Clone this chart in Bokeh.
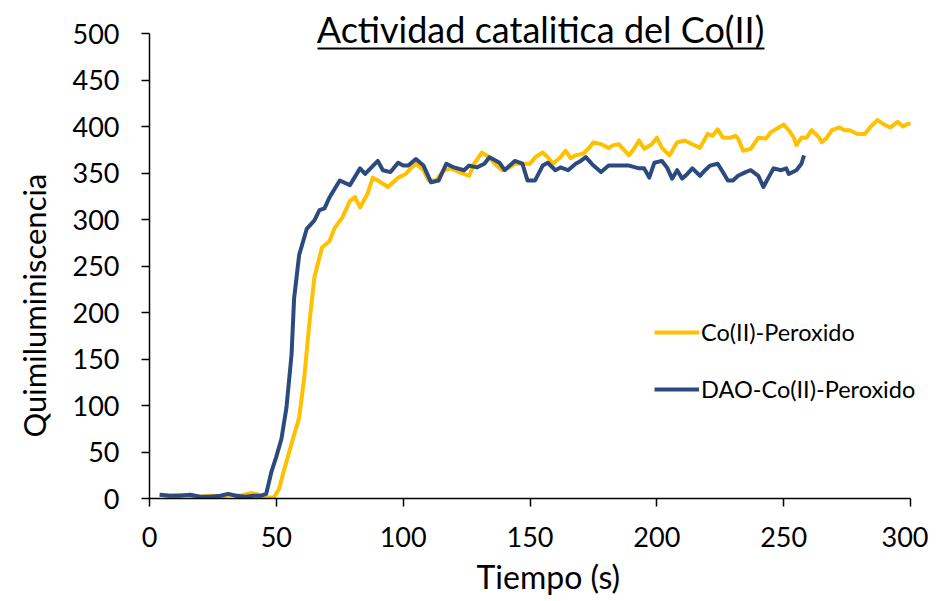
from bokeh.plotting import figure
from bokeh.models import Range1d, FixedTicker, Label, BoxAnnotation, Legend, LegendItem, Title
from bokeh.embed import file_html
from bokeh.resources import INLINE

# ---- data ----
t_co = [4, 8, 12, 16, 20, 24, 28, 32, 36, 40, 43, 46, 49, 51, 53, 56, 59, 61, 63, 65,
        68, 71, 73, 76, 79, 81, 83, 86, 88, 90, 94, 98, 101, 103, 105, 108, 110, 113,
        116, 119, 122, 126, 128, 131, 134, 136, 139, 142, 144, 148, 150, 152, 155, 157,
        159, 162, 164, 166, 168, 171, 173, 175, 178, 181, 183, 185, 189, 191, 193, 195,
        198, 200, 202, 205, 208, 211, 214, 217, 220, 222, 224, 226, 229, 231, 232, 234,
        237, 240, 243, 245, 248, 250, 252, 254, 255, 257, 259, 261, 264, 265, 267, 269,
        272, 274, 276, 279, 282, 284, 287, 289, 292, 295, 297, 299, 300]
v_co = [4, 3, 4, 3, 2, 3, 2, 4, 3, 6, 4, 1, 1, 10, 30, 59, 87, 130, 188, 238,
        270, 277, 291, 302, 320, 324, 313, 328, 345, 342, 335, 345, 349, 355, 360, 353, 342, 342,
        353, 355, 351, 347, 360, 372, 367, 360, 353, 356, 360, 360, 360, 367, 372, 367,
        360, 367, 374, 366, 369, 371, 376, 383, 381, 377, 380, 381, 369, 376, 385, 376,
        381, 388, 377, 369, 383, 385, 381, 377, 392, 390, 397, 388, 388, 390, 387, 374,
        376, 388, 387, 394, 399, 402, 396, 388, 380, 388, 388, 396, 388, 383, 388, 396,
        399, 396, 396, 392, 392, 399, 407, 403, 399, 405, 400, 403, 403]

t_dao = [4, 8, 12, 16, 20, 24, 28, 31, 34, 38, 41, 44, 46, 48, 50, 52, 54, 56, 57, 59,
         62, 65, 67, 69, 71, 75, 79, 83, 85, 90, 92, 95, 98, 100, 102, 105, 108, 111,
         114, 117, 120, 124, 126, 129, 132, 134, 138, 140, 144, 147, 149, 152, 155, 157,
         160, 162, 165, 168, 170, 172, 175, 178, 181, 185, 189, 193, 195, 197, 199, 202,
         204, 206, 208, 210, 212, 214, 217, 219, 221, 224, 226, 228, 230, 232, 235, 237,
         240, 242, 244, 246, 249, 251, 252, 255, 257, 258]
v_dao = [4, 3, 3, 4, 2, 2, 3, 5, 3, 2, 3, 3, 5, 28, 45, 64, 98, 155, 215, 262,
         290, 299, 310, 312, 324, 342, 337, 355, 349, 363, 353, 351, 361, 358, 358, 365, 358, 340,
         342, 360, 356, 353, 358, 356, 360, 367, 361, 353, 363, 360, 342, 342, 358, 361,
         353, 356, 353, 360, 363, 367, 358, 351, 358, 358, 358, 355, 355, 345, 361, 363,
         356, 344, 353, 344, 349, 355, 347, 353, 358, 360, 351, 342, 342, 347, 351, 353,
         347, 335, 345, 355, 353, 355, 349, 353, 360, 369]

x_ticks = [0, 50, 100, 150, 200, 250, 300]
y_ticks = [0, 50, 100, 150, 200, 250, 300, 350, 400, 450, 500]

FONT = "Lato"

# frame spans to the right/top edges so the title and legend are not clipped;
# axis lines are bounded to the data extent
p = figure(width=928, height=600, output_backend="svg", toolbar_location=None,
           x_range=Range1d(0, 307.08), y_range=Range1d(0, 535.5),
           min_border_left=147, min_border_right=0, min_border_top=0, min_border_bottom=102)
p.outline_line_color = None
p.grid.visible = False
p.background_fill_color = "white"

p.xaxis[0].bounds = (0, 300)
p.yaxis[0].bounds = (0, 500)
for ax, ticks, so in ((p.xaxis[0], x_ticks, 20), (p.yaxis[0], y_ticks, 22)):
    ax.ticker = FixedTicker(ticks=ticks)
    ax.major_tick_in = 0
    ax.major_tick_out = 8
    ax.minor_tick_in = 0
    ax.minor_tick_out = 0
    ax.axis_line_color = "black"
    ax.axis_line_width = 1.5
    ax.major_tick_line_color = "black"
    ax.major_tick_line_width = 1.5
    ax.major_label_text_font = FONT
    ax.major_label_text_font_size = "27px"
    ax.major_label_text_color = "black"
    ax.major_label_standoff = so

r1 = p.line(t_co, v_co, line_color="#FFC000", line_width=4, line_join="round")
r2 = p.line(t_dao, v_dao, line_color="#2B4A7E", line_width=4, line_join="round")

legend = Legend(items=[LegendItem(label="Co(II)-Peroxido", renderers=[r1]),
                       LegendItem(label="DAO-Co(II)-Peroxido", renderers=[r2])],
                location=(505, 95), orientation="vertical")
legend.border_line_color = None
legend.background_fill_alpha = 0
legend.padding = 0
legend.margin = 0
legend.spacing = 29
legend.glyph_width = 45
legend.glyph_height = 20
legend.label_height = 20
legend.label_standoff = 2
legend.label_text_font = FONT
legend.label_text_font_size = "23.5px"
legend.label_text_color = "black"
p.add_layout(legend)

title = Label(x=391, y=470, x_units="screen", y_units="screen",
              text="Actividad catalitica del Co(II)", text_font=FONT,
              text_font_size="36px", text_align="center", text_baseline="middle",
              text_color="black")
p.add_layout(title)
underline = BoxAnnotation(left=168, right=615, bottom=449, top=451,
                          left_units="screen", right_units="screen",
                          bottom_units="screen", top_units="screen",
                          fill_color="black", fill_alpha=1, line_color=None)
p.add_layout(underline)

xlab = Title(text="Tiempo (s)", align="left", offset=327, text_font=FONT,
             text_font_size="32px", text_font_style="normal", text_color="black")
p.add_layout(xlab, "below")
ylab = Title(text="Quimiluminiscencia", align="left", offset=61, text_font=FONT,
             text_font_size="31px", text_font_style="normal", text_color="black",
             vertical_align="top")
if "standoff" in Title.properties():
    ylab.standoff = 29
p.add_layout(ylab, "left")

open("out.html", "w").write(file_html(p, INLINE))
